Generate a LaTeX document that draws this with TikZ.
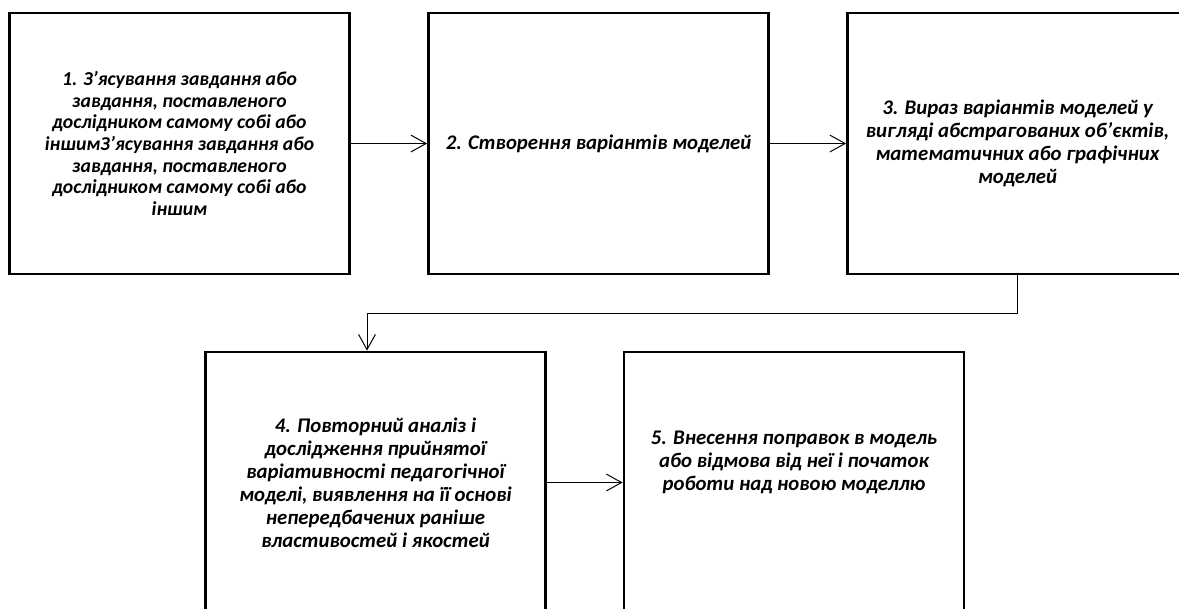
\documentclass[tikz,border=0pt]{standalone}
\usepackage{fontspec}
\setmainfont{Carlito}[Ligatures=ResetAll]
\usepackage{tikz}
\usetikzlibrary{arrows.meta}
\usetikzlibrary{calc}

\begin{document}
\begin{tikzpicture}
[x=0.025cm,y=-0.025cm,
  nodedecorate/.style={shape=rectangle,draw,line width=1.9pt,
    minimum width=8.5cm,minimum height=6.525cm,inner sep=4pt,
    align=center,font=\bfseries\itshape\fontsize{14.8}{16.3}\selectfont},%
  plaintext/.style={},
  longtext/.style={font=\bfseries\itshape\fontsize{14}{15.4}\selectfont},
  raisedtext/.style={text depth=1.1cm},
  linedecorate/.style={-{Straight Barb[length=0.38cm,width=0.42cm,line width=0.7pt]},line width=0.7pt}]
\useasboundingbox (0,0) rectangle (1179,608);
\clip (0,0) rectangle (1179,608);
%% nodes or vertices
\foreach \nodename/\x/\y/\nodestyle/\nodetext in {%
  s1/179.5/143.5/longtext/{1. З'ясування завдання або\\ завдання, поставленого\\ дослідником самому собі або\\ іншимЗ'ясування завдання або\\ завдання, поставленого\\ дослідником самому собі або\\ іншим},
  s2/598.5/143.5/plaintext/{2. Створення варіантів моделей},
  s3/1017.5/143.5/plaintext/{3. Вираз варіантів моделей у\\ вигляді абстрагованих об'єктів,\\ математичних або графічних\\ моделей},
  s4/375.5/482.5/plaintext/{4. Повторний аналіз і\\ дослідження прийнятої\\ варіативності педагогічної\\ моделі, виявлення на її основі\\ непередбачених раніше\\ властивостей і якостей},
  s5/794/482.5/raisedtext/{5. Внесення поправок в модель\\ або відмова від неї і початок\\ роботи над новою моделлю}}
{
  \node (\nodename) at (\x,\y) [nodedecorate,\nodestyle] {\nodetext};
}
%% edges or lines
\path
\foreach \startnode/\endnode in {s1/s2, s2/s3, s4/s5}
{
  (\startnode) edge[linedecorate] (\endnode)
};
\coordinate (turn) at (367,313);
\draw[linedecorate] (s3.south) |- (turn) -- (turn |- s4.north);
\end{tikzpicture}
\end{document}
